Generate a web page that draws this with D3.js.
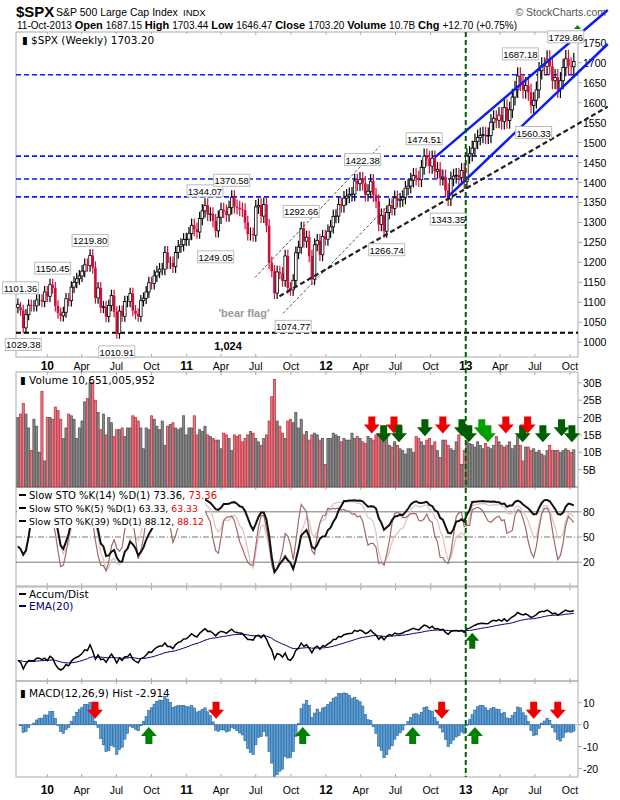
<!DOCTYPE html>
<html><head><meta charset="utf-8">
<script src="https://cdn.jsdelivr.net/npm/d3@7"></script>
<style>body{margin:0;background:#fff}svg{font-family:"DejaVu Sans",Verdana,sans-serif}</style>
</head><body>
<svg id="c" width="620" height="800"></svg>
<script>
// ---------- data ----------
const firstWeek = "2009-10-16";
const close2009 = [1087,1080,1036,1069,1093,1091,1091,1106,1106,1102,1126,1115];
const close2010 = [1144,1136,1091,1073,1066,1075,1109,1104,1138,1150,1159,1166,1178,1194,1192,1217,1187,1111,1136,1087,1089,1064,1092,1117,1076,1022,1078,1065,1102,1102,1122,1079,1071,1065,1104,1110,1126,1149,1147,1166,1176,1183,1183,1225,1199,1199,1189,1225,1240,1244,1257,1258];
const close2011 = [1272,1293,1283,1276,1310,1329,1343,1320,1321,1304,1279,1313,1332,1328,1319,1337,1363,1340,1337,1333,1331,1300,1271,1271,1268,1339,1343,1316,1345,1292,1199,1178,1123,1176,1173,1154,1216,1136,1131,1155,1224,1238,1285,1253,1263,1216,1158,1244,1255,1219,1265,1258];
const close2012 = [1278,1289,1315,1316,1345,1342,1361,1366,1370,1371,1404,1397,1408,1398,1370,1378,1403,1369,1353,1295,1318,1278,1325,1343,1335,1362,1355,1357,1363,1386,1391,1406,1418,1411,1407,1438,1466,1460,1441,1461,1428,1433,1411,1414,1380,1359,1409,1416,1418,1413,1430,1402];
const close2013 = [1466,1472,1486,1503,1513,1518,1520,1516,1518,1551,1561,1556,1569,1553,1588,1555,1582,1614,1633,1667,1650,1631,1643,1626,1593,1606,1632,1680,1692,1691,1709,1691,1655,1663,1633,1655,1688,1710,1692,1690,1703];
const vol2009 = [20,21,24,21,17,10.5,19.5,17.5,10,27.5,7.5,20];
const vol2010 = [20,19.5,23,22,19.5,14,17,21,20.5,19.5,14,17,19,24.5,25.5,30,30,25,21.5,16.5,21,15,20,18.5,14.5,16.5,16.5,17,14.5,17,17,20.5,20,19,17,11,17,16.5,20.5,19.5,17.5,16.5,19,12,17.5,18,18.5,17,16.5,17,20.5,15];
const vol2011 = [17,17,20.5,15,16.5,16,17.5,15,14.5,14,13.5,13.5,11,15.5,15,14,10.5,15,14.5,15,13,14,15,16,15.5,14,13,12,14,15,19,26,31,19,17.5,15.5,14,19,19.5,18.5,21.5,17,19.5,15,16,13.5,15,15.5,15,13.5,14,6.5];
const vol2012 = [14,14,15.5,15,14.5,13,14,13.5,13.5,15.5,14,14.5,14,13,12.5,14.5,14,13.5,15,15,14.5,13,14,12,11.5,13,12,11,10.5,9.5,11,11,10,14.5,14,13,12,13.5,14,12,13,10.5,8.5,13.5,13.5,12,11,10.5,13,15,6.5,10.5];
const vol2013 = [13,12.5,12.2,11.5,13,12,11,12.5,11.5,11,12,14.5,13,12,11.5,12,13,11,12,14.5,12,7.5,11.5,11.5,10.5,11,10,10.5,9.5,9,10.5,12,10.5,10.5,10.5,10,10.5,11,10.5,10,10.7];
const priceTicks = [1000,1050,1100,1150,1200,1250,1300,1350,1400,1450,1500,1550,1600,1650,1700,1750];
const volTicks = [5,10,15,20,25,30];
const stoTicks = [20,50,80];
const macdTicks = [-20,-10,0,10];
const hLevels = [1670,1466,1409,1364];
const supportLevel = 1024;
const priceLabels = [
 ["2009-10-23",1101.36,"1101.36",-1],["2009-10-30",1029.38,"1029.38",1],["2010-01-15",1150.45,"1150.45",-1],
 ["2010-04-23",1219.80,"1219.80",-1],["2010-07-02",1010.91,"1010.91",1],["2011-02-18",1344.07,"1344.07",-1],
 ["2011-03-18",1249.05,"1249.05",1],["2011-04-29",1370.58,"1370.58",-1],["2011-10-28",1292.66,"1292.66",-1],
 ["2011-10-07",1074.77,"1074.77",1],["2012-04-06",1422.38,"1422.38",-1],["2012-06-08",1266.74,"1266.74",1],
 ["2012-09-14",1474.51,"1474.51",-1],["2012-11-16",1343.35,"1343.35",1],["2013-05-24",1687.18,"1687.18",-1],
 ["2013-06-28",1560.33,"1560.33",1],["2013-09-20",1729.86,"1729.86",-1]];
const trendLines = [
 {a:["2011-06-29",1162],b:["2012-05-21",1491],c:"#555",w:1,d:"3,2"},
 {a:["2011-09-10",1072],b:["2012-07-31",1391],c:"#555",w:1,d:"3,2"},
 {a:["2011-09-01",1115],b:["2014-01-08",1590],c:"#222",w:2.2,d:"5,3"},
 {a:["2012-10-12",1463],b:["2014-01-08",1832],c:"#0a1ef0",w:2.5,d:null},
 {a:["2012-11-15",1364],b:["2014-01-08",1747],c:"#0a1ef0",w:2.5,d:null}];
const volArrows = [["2012-04-30","r"],["2012-05-31","g"],["2012-06-27","r"],["2012-07-10","g"],["2012-09-16","g"],
 ["2012-11-02","r"],["2012-12-22","g"],["2013-01-09","g"],["2013-02-12","lg"],["2013-02-28","lg"],["2013-04-16","r"],
 ["2013-05-30","g"],["2013-06-12","r"],["2013-07-22","g"],["2013-09-09","g"],["2013-10-06","g"]];
const macdArrows = [["2010-05-06","down"],["2010-09-24","up"],["2011-03-19","down"],["2011-11-01","up"],["2012-08-15","up"],
 ["2012-10-30","down"],["2013-01-25","up"],["2013-06-28","down"],["2013-08-30","down"]];
const markerDate = "2013-01-01";

// ---------- derived series ----------
const parse = d3.timeParse("%Y-%m-%d");
const closes = [...close2009,...close2010,...close2011,...close2012,...close2013];
const vols = [...vol2009,...vol2010,...vol2011,...vol2012,...vol2013];
const t0 = parse(firstWeek);
const bars = closes.map((c,i)=>{
  const o = i ? closes[i-1] : 1095;
  const pad = 0.013;
  return {date:d3.timeWeek.offset(t0,i), o, c, h:Math.max(o,c)*(1+pad), l:Math.min(o,c)*(1-pad), v:vols[i], up: i? c>=closes[i-1] : true};
});
function slowK(n){
  const raw = bars.map((b,i)=>{const w=bars.slice(Math.max(0,i-n+1),i+1);const hh=d3.max(w,d=>d.h),ll=d3.min(w,d=>d.l);return (b.c-ll)/(hh-ll)*100;});
  return raw.map((r,i)=>d3.mean(raw.slice(Math.max(0,i-2),i+1)));
}
function ema(a,n){const k=2/(n+1);let e=a[0];return a.map(v=>(e=v*k+e*(1-k)));}
const k14=slowK(14),k5=slowK(5),k39=slowK(39);
const e12=ema(closes,12),e26=ema(closes,26);
const macd=e12.map((v,i)=>v-e26[i]); const sig=ema(macd,9); const hist=macd.map((v,i)=>v-sig[i]);
let acc=0; const ad=bars.map(b=>(acc+=((b.c-b.l)-(b.h-b.c))/(b.h-b.l)*b.v)); const adE=ema(ad,20);

// ---------- layout ----------
const svg=d3.select("#c");
const L=16,R=578;
const x=d3.scaleTime().domain([parse("2009-10-11"),parse("2013-10-22")]).range([L,R]);
const P={main:[32,357],vol:[372,487],sto:[487,586],ad:[587,681],macd:[681,777]};
const yP=d3.scaleLinear().domain([963,1777]).range([357,32]);
const yV=d3.scaleLinear().domain([0,33.1]).range([487,372]);
const yS=d3.scaleLinear().domain([-8.4,109.6]).range([586,487]);
const yA=d3.scaleLinear().domain(d3.extent(ad)).range([670,610]);
const yM=d3.scaleLinear().domain([-23.8,19]).range([777,683]);

// header
svg.append("text").attr("x",16).attr("y",17).attr("font-size",15).attr("font-weight","bold").attr("font-family","Liberation Sans, Arial").text("$SPX");
svg.append("text").attr("x",56).attr("y",16).attr("font-size",10.5).attr("font-family","Liberation Sans, Arial").text("S&P 500 Large Cap Index");
svg.append("text").attr("x",183).attr("y",16).attr("font-size",9.5).attr("font-family","Liberation Sans, Arial").text("INDX");
svg.append("text").attr("x",606).attr("y",16).attr("text-anchor","end").attr("font-size",10.5).attr("fill","#555").attr("font-family","Liberation Sans, Arial").text("© StockCharts.com");
const hdr=svg.append("text").attr("x",17).attr("y",29).attr("font-size",10).attr("font-family","Liberation Sans, Arial");
[["11-Oct-2013 ",0],["Open ",1],["1687.15 ",0],["High ",1],["1703.44 ",0],["Low ",1],["1646.47 ",0],["Close ",1],["1703.20 ",0],["Volume ",1],["10.7B ",0],["Chg ",1],["+12.70 (+0.75%)",0]].forEach(([t,b])=>hdr.append("tspan").attr("font-weight",b?"bold":"normal").attr("font-size",b?11:10).text(t));
svg.append("path").attr("d","M574,29 l3.5,-4 l3.5,4z").attr("fill","#080");

// panel frames
Object.values(P).forEach(([a,b])=>svg.append("rect").attr("x",L).attr("y",a).attr("width",R-L).attr("height",b-a).attr("fill","none").attr("stroke","#aaa"));

// x axes
const months=d3.timeMonth.every(3).range(parse("2010-01-01"),parse("2013-11-01"));
function xAxis(yy){months.forEach(m=>{const jan=m.getMonth()===0;svg.append("text").attr("x",x(m)).attr("y",yy).attr("text-anchor","middle").attr("font-size",jan?12:10.5).attr("font-weight",jan?"bold":"normal").attr("font-family","Liberation Sans, Arial").text(jan?d3.timeFormat("%y")(m):d3.timeFormat("%b")(m));});}
xAxis(370);xAxis(794);
Object.values(P).forEach(([a,b])=>months.forEach(m=>{svg.append("line").attr("x1",x(m)).attr("x2",x(m)).attr("y1",a).attr("y2",a+3).attr("stroke","#aaa");svg.append("line").attr("x1",x(m)).attr("x2",x(m)).attr("y1",b-3).attr("y2",b).attr("stroke","#aaa");}));

function yTicks(vals,sc,fmt){vals.forEach(v=>{svg.append("line").attr("x1",R).attr("x2",R+4).attr("y1",sc(v)).attr("y2",sc(v)).attr("stroke","#aaa");svg.append("text").attr("x",R+5).attr("y",sc(v)+4).attr("font-size",10.5).attr("font-family","Liberation Sans, Arial").text(fmt(v));});}
yTicks(priceTicks,yP,d=>d);yTicks(volTicks,yV,d=>d+"B");yTicks(stoTicks,yS,d=>d);yTicks(macdTicks,yM,d=>d);

// main panel
const g=svg.append("g");
hLevels.forEach(v=>g.append("line").attr("x1",L).attr("x2",R).attr("y1",yP(v)).attr("y2",yP(v)).attr("stroke","#0a1ef0").attr("stroke-width",1.6).attr("stroke-dasharray","5,3"));
g.append("line").attr("x1",L).attr("x2",R).attr("y1",yP(supportLevel)).attr("y2",yP(supportLevel)).attr("stroke","#000").attr("stroke-width",2).attr("stroke-dasharray","5,3");
bars.forEach(b=>{const cx=x(b.date),col=b.up?"#000":"#d0103a";
  g.append("line").attr("x1",cx).attr("x2",cx).attr("y1",yP(b.h)).attr("y2",yP(b.l)).attr("stroke",col).attr("stroke-width",1.2);
  if(!b.up)g.append("rect").attr("x",cx-1.3).attr("y",yP(Math.max(b.o,b.c))).attr("width",2.6).attr("height",Math.abs(yP(b.o)-yP(b.c))).attr("fill",col);
  else g.append("rect").attr("x",cx-1.3).attr("y",yP(Math.max(b.o,b.c))).attr("width",2.6).attr("height",Math.abs(yP(b.o)-yP(b.c))).attr("fill","#fff").attr("stroke",col).attr("stroke-width",0.8);
});
trendLines.forEach(t=>g.append("line").attr("x1",x(parse(t.a[0]))).attr("y1",yP(t.a[1])).attr("x2",x(parse(t.b[0]))).attr("y2",yP(t.b[1])).attr("stroke",t.c).attr("stroke-width",t.w).attr("stroke-dasharray",t.d));
priceLabels.forEach(([d,v,t,s])=>{const cx=x(parse(d)),cy=yP(v)+s*14;const w=36;
  g.append("rect").attr("x",cx-w/2).attr("y",cy-6).attr("width",w).attr("height",12).attr("fill","#fff").attr("stroke","#bbb");
  g.append("text").attr("x",cx).attr("y",cy+4).attr("text-anchor","middle").attr("font-size",9.5).attr("font-family","Liberation Sans, Arial").text(t);});
g.append("text").attr("x",228).attr("y",350).attr("text-anchor","middle").attr("font-size",11).attr("font-weight","bold").attr("font-family","Liberation Sans, Arial").text("1,024");
g.append("text").attr("x",244).attr("y",317).attr("text-anchor","middle").attr("font-size",11).attr("font-weight","bold").attr("fill","#999").attr("font-family","Liberation Sans, Arial").text("'bear flag'");
g.append("rect").attr("x",19).attr("y",34).attr("width",180).attr("height",13).attr("fill","#fff");
g.append("text").attr("x",22).attr("y",44).attr("font-size",10.5).text("\u25AE $SPX (Weekly) 1703.20");

// volume
bars.forEach(b=>svg.append("rect").attr("x",x(b.date)-1.1).attr("y",yV(b.v)).attr("width",2.2).attr("height",yV(0)-yV(b.v)).attr("fill",b.up?"#888":"#e07a84").attr("stroke",b.up?"#505050":"#c02838").attr("stroke-width",0.7));
svg.append("text").attr("x",20).attr("y",384).attr("font-size",10.5).text("\u25AE Volume 10,651,005,952");
const arrowCol={r:"#ee0000",g:"#005c00",lg:"#00a000"};
volArrows.forEach(([d,c],i)=>{const cx=x(parse(d));const top=c==="r"?yV(20.3):yV(19.5)+(i%2)*6;
  svg.append("path").attr("d",`M${cx-3.5},${top} h7 v8 h4.5 l-8,9 l-8,-9 h4.5z`).attr("fill",arrowCol[c]);});

// STO
[20,80].forEach(v=>svg.append("line").attr("x1",L).attr("x2",R).attr("y1",yS(v)).attr("y2",yS(v)).attr("stroke","#777"));
svg.append("line").attr("x1",L).attr("x2",R).attr("y1",yS(50)).attr("y2",yS(50)).attr("stroke","#777").attr("stroke-dasharray","6,2,1,2");
const lineS=a=>d3.line().x((d,i)=>x(bars[i].date)).y(d=>yS(d))(a);
svg.append("path").attr("d",lineS(k14)).attr("fill","none").attr("stroke","#e2c4c4").attr("stroke-width",1.3);
svg.append("path").attr("d",lineS(k5)).attr("fill","none").attr("stroke","#a06a66").attr("stroke-width",1.2);
svg.append("path").attr("d",lineS(k39)).attr("fill","none").attr("stroke","#111").attr("stroke-width",2);
svg.append("rect").attr("x",17).attr("y",488).attr("width",188).attr("height",40).attr("fill","#fff");
[["Slow STO %K(14) %D(1) 73.36, ","73.36"],["Slow STO %K(5) %D(1) 63.33, ","63.33"],["Slow STO %K(39) %D(1) 88.12, ","88.12"]].forEach(([a,b],i)=>{
  svg.append("line").attr("x1",19).attr("x2",26).attr("y1",495+i*13).attr("y2",495+i*13).attr("stroke","#000").attr("stroke-width",2);
  const t=svg.append("text").attr("x",29).attr("y",499+i*13).attr("font-size",i===0?10:9.3);t.append("tspan").text(a);t.append("tspan").attr("fill","#e00").text(b);});

// A/D
const lineA=a=>d3.line().x((d,i)=>x(bars[i].date)).y(d=>yA(d))(a);
svg.append("path").attr("d",lineA(adE)).attr("fill","none").attr("stroke","#00007a").attr("stroke-width",1);
svg.append("path").attr("d",lineA(ad)).attr("fill","none").attr("stroke","#000").attr("stroke-width",1.5);
svg.append("line").attr("x1",19).attr("x2",26).attr("y1",594).attr("y2",594).attr("stroke","#000").attr("stroke-width",2);
svg.append("text").attr("x",29).attr("y",598).attr("font-size",10.5).text("Accum/Dist");
svg.append("line").attr("x1",19).attr("x2",26).attr("y1",606).attr("y2",606).attr("stroke","#00007a").attr("stroke-width",2);
svg.append("text").attr("x",29).attr("y",610).attr("font-size",10.5).attr("fill","#00007a").text("EMA(20)");
{const b=bars.findIndex(d=>d.date>=parse("2013-01-18"));const cx=x(bars[b].date),cy=yA(ad[b])+6;
 svg.append("path").attr("d",`M${cx},${cy} l7,8 h-4 v8 h-6 v-8 h-4z`).attr("fill","#007000");}

// MACD
svg.append("line").attr("x1",L).attr("x2",R).attr("y1",yM(0)).attr("y2",yM(0)).attr("stroke","#7ab8e0").attr("stroke-dasharray","1,1");
bars.forEach((b,i)=>{const v=hist[i];svg.append("rect").attr("x",x(b.date)-1.2).attr("y",yM(Math.max(0,v))).attr("width",2.4).attr("height",Math.abs(yM(v)-yM(0))).attr("fill","#5aa0d8").attr("stroke","#2a5f94").attr("stroke-width",0.6);});
svg.append("text").attr("x",20).attr("y",697).attr("font-size",10.5).text("\u25AE MACD(12,26,9) Hist -2.914");
macdArrows.forEach(([d,dir])=>{const cx=x(parse(d));
  if(dir==="down"){const t=yM(10.5);svg.append("path").attr("d",`M${cx-3.5},${t} h7 v8 h4.5 l-8,9 l-8,-9 h4.5z`).attr("fill","#ee0000");}
  else{const t=yM(-1);svg.append("path").attr("d",`M${cx},${t} l8,9 h-4.5 v8 h-7 v-8 h-4.5z`).attr("fill","#008000");}});

// marker line
svg.append("line").attr("x1",x(parse(markerDate))).attr("x2",x(parse(markerDate))).attr("y1",32).attr("y2",777).attr("stroke","#006000").attr("stroke-width",2).attr("stroke-dasharray","5,3");
</script></body></html>
